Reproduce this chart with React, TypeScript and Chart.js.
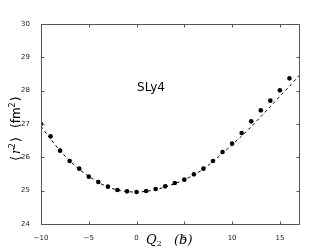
import { useEffect, useRef } from 'react';
import { Chart, registerables } from 'chart.js';

Chart.register(...registerables);

const q2Points = [-10, -9, -8, -7, -6, -5, -4, -3, -2, -1, 0, 1, 2, 3, 4, 5, 6, 7, 8, 9, 10, 11, 12, 13, 14, 15, 16];
const r2Points = [27.0, 26.63, 26.2, 25.89, 25.66, 25.42, 25.26, 25.12, 25.02, 24.98, 24.96, 24.99, 25.05, 25.13, 25.23, 25.33, 25.49, 25.66, 25.89, 26.16, 26.41, 26.73, 27.08, 27.41, 27.7, 28.01, 28.37];

const fitQ = [-10, -9, -8, -7, -6, -5, -4, -3, -2, -1, 0, 1, 2, 3, 4, 5, 6, 7, 8, 9, 10, 11, 12, 13, 14, 15, 16, 17];
const fitR2 = [26.93, 26.55, 26.2, 25.9, 25.64, 25.43, 25.25, 25.11, 25.02, 24.97, 24.96, 24.98, 25.03, 25.11, 25.21, 25.33, 25.47, 25.65, 25.88, 26.12, 26.38, 26.64, 26.92, 27.22, 27.52, 27.83, 28.13, 28.45];

const xTicks = [-10, -5, 0, 5, 10, 15];
const yTicks = [24, 25, 26, 27, 28, 29, 30];

const labelText = 'SLy4';
const labelPos = { x: 0.05, y: 28.09 };

const framePlugin = {
  id: 'frame',
  afterDraw(chart: any) {
    const { ctx, chartArea: a, scales } = chart;
    const xs = scales.x;
    const ys = scales.y;
    ctx.save();
    ctx.strokeStyle = '#555';
    ctx.lineWidth = 1;
    const L = Math.round(a.left) + 0.5;
    const R = Math.round(a.right) + 0.5;
    const T = Math.round(a.top) + 0.5;
    const B = Math.round(a.bottom) + 0.5;
    ctx.beginPath();
    ctx.rect(L, T, R - L, B - T);
    ctx.stroke();
    ctx.beginPath();
    for (const v of xTicks) {
      const px = Math.round(xs.getPixelForValue(v)) + 0.5;
      ctx.moveTo(px, B); ctx.lineTo(px, B - 3);
      ctx.moveTo(px, T); ctx.lineTo(px, T + 3);
    }
    for (const v of yTicks) {
      const py = Math.round(ys.getPixelForValue(v)) + 0.5;
      ctx.moveTo(L, py); ctx.lineTo(L + 3, py);
      ctx.moveTo(R, py); ctx.lineTo(R - 3, py);
    }
    ctx.stroke();

    // annotation
    ctx.fillStyle = '#000';
    ctx.font = '12px "DejaVu Sans"';
    ctx.textAlign = 'left';
    ctx.textBaseline = 'middle';
    ctx.fillText(labelText, xs.getPixelForValue(labelPos.x), ys.getPixelForValue(labelPos.y));

    // x axis title: Q_2   (b)
    ctx.textBaseline = 'alphabetic';
    ctx.font = 'italic 13px "DejaVu Serif"';
    const bx = 146;
    const by = 244;
    ctx.fillText('Q', bx, by);
    const qw = ctx.measureText('Q').width;
    ctx.font = '8px "DejaVu Serif"';
    ctx.fillText('2', bx + qw, by + 2);
    ctx.font = 'italic 13px "DejaVu Serif"';
    ctx.fillText('(b)', 174, by);

    // y axis title
    ctx.translate(20, 161);
    ctx.rotate(-Math.PI / 2);
    let cx = 0;
    const part = (t: string, font: string, dy = 0, gap = 0) => {
      ctx.font = font;
      ctx.fillText(t, cx, dy);
      cx += ctx.measureText(t).width + gap;
    };
    const br = '13px "DejaVu Sans"';
    const base = '12px "DejaVu Sans"';
    part('\u27E8', br, 0, 2);
    part('r', 'italic 12px "DejaVu Serif"');
    part('2', '8px "DejaVu Sans"', -5, 1);
    part('\u27E9', br, 0, 9);
    part('(fm', base);
    part('2', '8px "DejaVu Sans"', -5, 1);
    part(')', base);
    ctx.restore();
  },
};

export default function App() {
  const ref = useRef<HTMLCanvasElement | null>(null);
  useEffect(() => {
    document.body.style.margin = '0';
    if (!ref.current) return;
    const chart = new Chart(ref.current, {
      type: 'scatter',
      data: {
        datasets: [
          {
            type: 'line',
            data: fitQ.map((q, i) => ({ x: q, y: fitR2[i] })),
            borderColor: '#000',
            borderWidth: 1,
            borderDash: [3, 3],
            pointRadius: 0,
            tension: 0.3,
            fill: false,
            order: 2,
          } as any,
          {
            type: 'scatter',
            data: q2Points.map((q, i) => ({ x: q, y: r2Points[i] })),
            backgroundColor: '#000',
            borderColor: '#000',
            pointRadius: 2.3,
            borderWidth: 0,
            order: 1,
          },
        ],
      },
      options: {
        responsive: false,
        animation: false,
        layout: { padding: { left: 0, right: 33, top: 24, bottom: 0 } },
        plugins: { legend: { display: false }, tooltip: { enabled: false } },
        scales: {
          x: {
            type: 'linear',
            min: -10,
            max: 17,
            afterBuildTicks: (s: any) => { s.ticks = xTicks.map((v) => ({ value: v })); },
            afterFit: (s: any) => { s.height = 25; },
            grid: { display: false },
            border: { display: false },
            ticks: {
              font: { family: 'DejaVu Sans', size: 7 },
              color: '#222',
              padding: 2,
              maxRotation: 0,
              callback: (v: any) => String(v).replace('-', '\u2212'),
            },
          },
          y: {
            type: 'linear',
            min: 24,
            max: 30,
            afterBuildTicks: (s: any) => { s.ticks = yTicks.map((v) => ({ value: v })); },
            afterFit: (s: any) => { s.width = 41; },
            grid: { display: false },
            border: { display: false },
            ticks: {
              font: { family: 'DejaVu Sans', size: 7 },
              color: '#222',
              padding: 3,
            },
          },
        },
      },
      plugins: [framePlugin],
    });
    return () => chart.destroy();
  }, []);
  return <canvas ref={ref} width={332} height={249} style={{ display: 'block' }} />;
}
